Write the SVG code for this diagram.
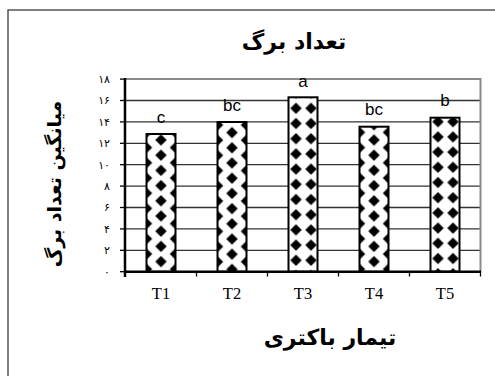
<svg xmlns="http://www.w3.org/2000/svg" width="495" height="376" viewBox="0 0 495 376">
<style>
.frame{fill:#fff;stroke:#555;stroke-width:1.5}
.grid{stroke:#333;stroke-width:1.3}
.plotedge{stroke:#8a8a8a;stroke-width:2;fill:none}
.axis{stroke:#000;stroke-width:2.5;fill:none}
.tick{stroke:#000;stroke-width:1.3}
.ylab{font-family:"DejaVu Sans",sans-serif;font-size:11px;fill:#000;text-anchor:end}
.xlab{font-family:"Liberation Serif",serif;font-size:16.5px;fill:#000;text-anchor:middle}
.sig{font-family:"Liberation Sans",Arial,sans-serif;font-size:17px;fill:#000;text-anchor:middle}
.title{font-family:"DejaVu Sans",sans-serif;font-weight:bold;font-size:22px;fill:#000;text-anchor:middle}
.ytitle{font-size:19px}
.bar{stroke:#000;stroke-width:2}
</style>
<defs>
<pattern id="pA" patternUnits="userSpaceOnUse" width="29" height="15.2">
<rect width="29" height="15.2" fill="#fff"/>
<polygon points="14.5,-5.8 20.2,0 14.5,5.8 8.8,0" fill="#000"/>
<polygon points="14.5,9.4 20.2,15.2 14.5,21 8.8,15.2" fill="#000"/>
<polygon points="0,1.8 5.7,7.6 0,13.4 -5.7,7.6" fill="#000"/>
<polygon points="29,1.8 34.7,7.6 29,13.4 23.3,7.6" fill="#000"/>
</pattern>
<pattern id="pB" patternUnits="userSpaceOnUse" width="15" height="15.2">
<rect width="15" height="15.2" fill="#fff"/>
<polygon points="7.5,-5.8 13.2,0 7.5,5.8 1.8,0" fill="#000"/>
<polygon points="7.5,9.4 13.2,15.2 7.5,21 1.8,15.2" fill="#000"/>
</pattern>
</defs>
<rect class="frame" x="8" y="10" width="495" height="375"/>
<g id="title"><text class="title" x="294" y="49">تعداد برگ</text></g>
<g id="gridlines">
<line class="grid" x1="125" y1="250.3" x2="480" y2="250.3"/>
<line class="grid" x1="125" y1="228.9" x2="480" y2="228.9"/>
<line class="grid" x1="125" y1="207.5" x2="480" y2="207.5"/>
<line class="grid" x1="125" y1="186.1" x2="480" y2="186.1"/>
<line class="grid" x1="125" y1="164.7" x2="480" y2="164.7"/>
<line class="grid" x1="125" y1="143.3" x2="480" y2="143.3"/>
<line class="grid" x1="125" y1="121.9" x2="480" y2="121.9"/>
<line class="grid" x1="125" y1="100.5" x2="480" y2="100.5"/>
<polyline class="plotedge" points="125,79.1 480.5,79.1 480.5,271.7"/>
</g>
<g id="bar-T1" transform="translate(146.5,140)"><rect class="bar" x="0" y="-6" width="29" height="137.7" fill="url(#pA)"/></g>
<g id="bar-T2" transform="translate(217.5,117.4)"><rect class="bar" x="0" y="4.6" width="29" height="149.7" fill="url(#pA)"/></g>
<g id="bar-T3" transform="translate(288.5,108.3)"><rect class="bar" x="0" y="-11" width="29" height="174.4" fill="url(#pB)"/></g>
<g id="bar-T4" transform="translate(359.5,140)"><rect class="bar" x="0" y="-13.3" width="29" height="145" fill="url(#pA)"/></g>
<g id="bar-T5" transform="translate(430.5,121.7)"><rect class="bar" x="0" y="-4" width="29" height="154" fill="url(#pB)"/></g>
<g id="axes">
<line class="axis" x1="125" y1="78" x2="125" y2="277"/>
<line class="axis" x1="124" y1="271.7" x2="481" y2="271.7"/>
<line class="tick" x1="120" y1="271.7" x2="125" y2="271.7"/>
<line class="tick" x1="120" y1="250.3" x2="125" y2="250.3"/>
<line class="tick" x1="120" y1="228.9" x2="125" y2="228.9"/>
<line class="tick" x1="120" y1="207.5" x2="125" y2="207.5"/>
<line class="tick" x1="120" y1="186.1" x2="125" y2="186.1"/>
<line class="tick" x1="120" y1="164.7" x2="125" y2="164.7"/>
<line class="tick" x1="120" y1="143.3" x2="125" y2="143.3"/>
<line class="tick" x1="120" y1="121.9" x2="125" y2="121.9"/>
<line class="tick" x1="120" y1="100.5" x2="125" y2="100.5"/>
<line class="tick" x1="120" y1="79.1" x2="125" y2="79.1"/>
<line class="tick" x1="196.5" y1="271.7" x2="196.5" y2="276.5"/>
<line class="tick" x1="267.5" y1="271.7" x2="267.5" y2="276.5"/>
<line class="tick" x1="338.5" y1="271.7" x2="338.5" y2="276.5"/>
<line class="tick" x1="409.5" y1="271.7" x2="409.5" y2="276.5"/>
<line class="tick" x1="480.5" y1="271.7" x2="480.5" y2="276.5"/>
</g>
<g id="y-labels">
<text class="ylab" x="110" y="275.5">۰</text>
<text class="ylab" x="110" y="254.1">۲</text>
<text class="ylab" x="110" y="232.7">۴</text>
<text class="ylab" x="110" y="211.3">۶</text>
<text class="ylab" x="110" y="189.9">۸</text>
<text class="ylab" x="110" y="168.5">۱۰</text>
<text class="ylab" x="110" y="147.1">۱۲</text>
<text class="ylab" x="110" y="125.7">۱۴</text>
<text class="ylab" x="110" y="104.3">۱۶</text>
<text class="ylab" x="110" y="82.9">۱۸</text>
</g>
<g id="x-labels">
<text class="xlab" x="161" y="299">T1</text>
<text class="xlab" x="232" y="299">T2</text>
<text class="xlab" x="303" y="299">T3</text>
<text class="xlab" x="374" y="299">T4</text>
<text class="xlab" x="445" y="299">T5</text>
</g>
<g id="bar-letters">
<text class="sig" x="161" y="123">c</text>
<text class="sig" x="232" y="110.7">bc</text>
<text class="sig" x="303" y="86.5">a</text>
<text class="sig" x="374" y="115">bc</text>
<text class="sig" x="445" y="105.5">b</text>
</g>
<g id="axis-titles">
<text class="title ytitle" transform="translate(61,184) rotate(-90)">میانگین تعداد برگ</text>
<text class="title" x="330" y="345">تیمار باکتری</text>
</g>
</svg>
